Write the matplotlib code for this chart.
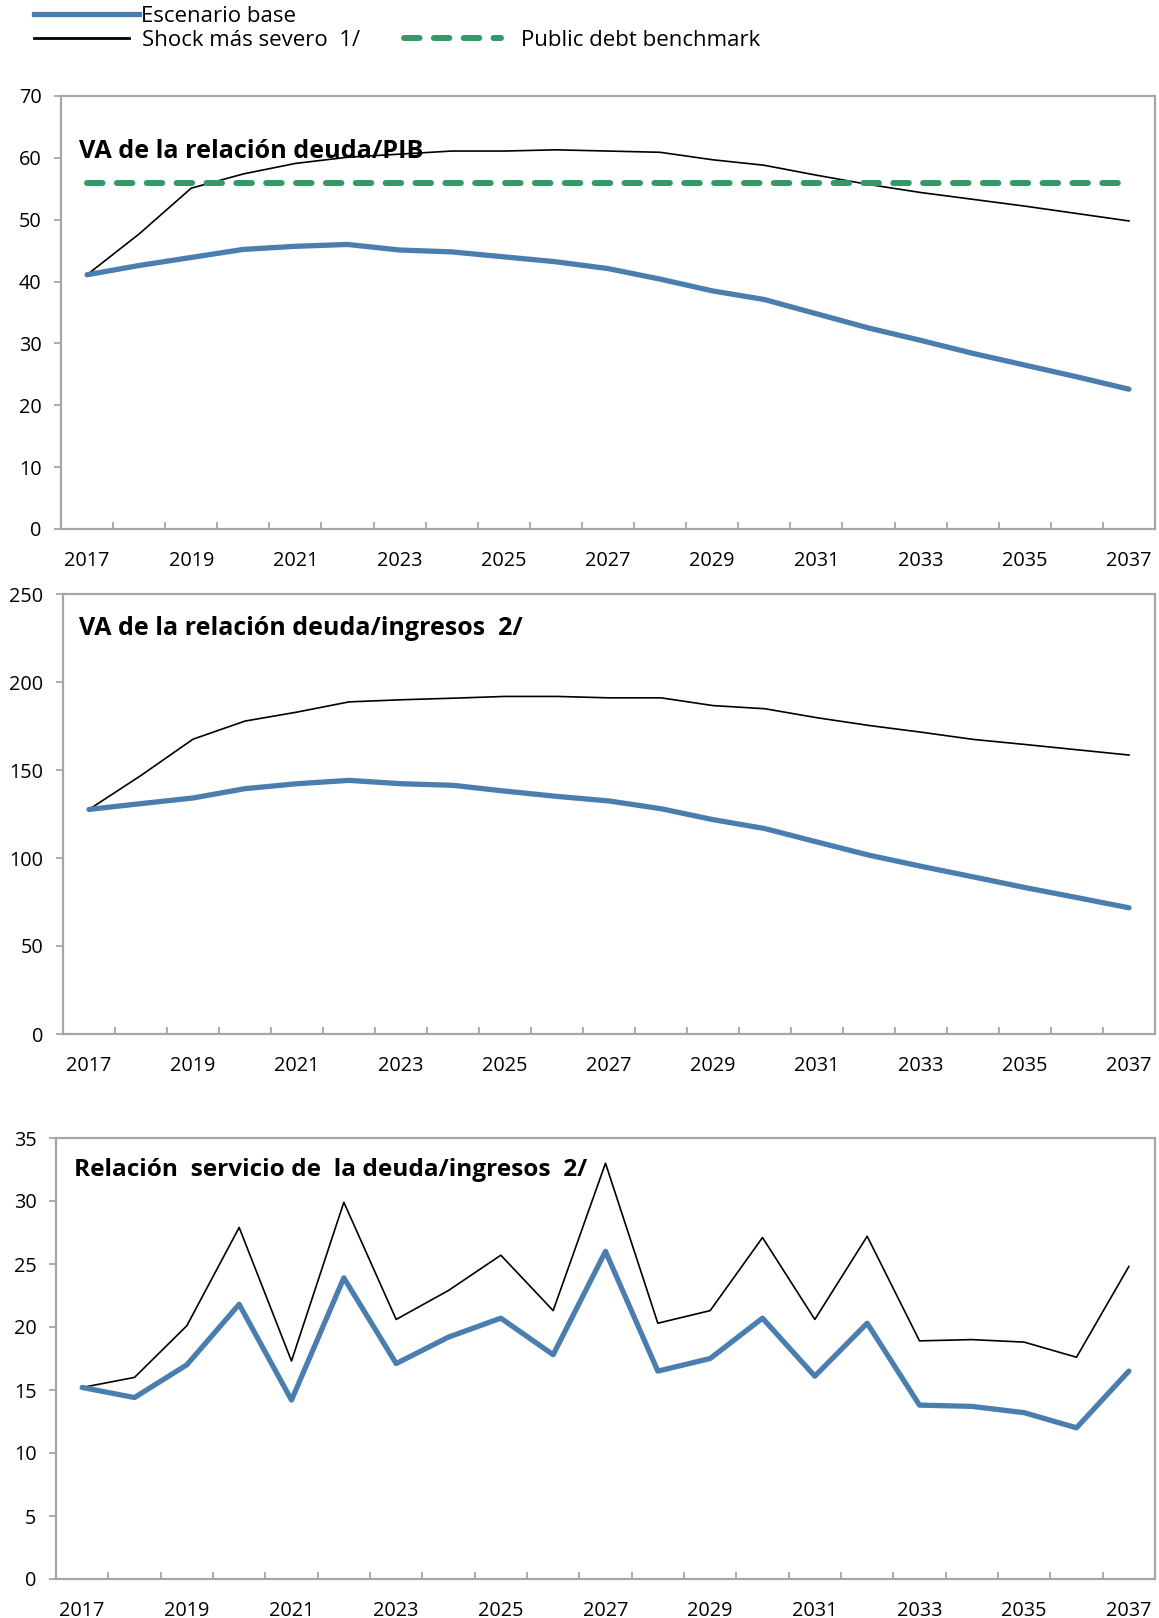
import matplotlib
matplotlib.use('Agg')
import matplotlib.pyplot as plt
from matplotlib.lines import Line2D
from matplotlib.ticker import FixedLocator

plt.rcParams['font.family'] = ['Open Sans', 'DejaVu Sans']

# ---------------- data ----------------
years = list(range(2017, 2038))
label_years = list(range(2017, 2038, 2))

pib_base = [41.1, 42.6, 43.9, 45.2, 45.7, 46.0, 45.1, 44.8, 44.0, 43.2, 42.1,
            40.4, 38.5, 37.1, 34.8, 32.5, 30.5, 28.4, 26.5, 24.6, 22.6]
pib_shock = [41.1, 47.7, 55.1, 57.4, 59.1, 60.1, 60.6, 61.1, 61.1, 61.3, 61.1,
             60.9, 59.7, 58.8, 57.2, 55.7, 54.4, 53.3, 52.2, 51.0, 49.8]
pib_benchmark = [56.0] * len(years)

ing_base = [127.6, 130.9, 134.1, 139.4, 142.2, 144.1, 142.2, 141.3, 138.0, 135.0, 132.4,
            128.0, 121.8, 116.7, 109.1, 101.6, 95.3, 89.3, 83.2, 77.5, 71.7]
ing_shock = [127.6, 146.9, 167.5, 177.8, 182.9, 188.7, 189.9, 190.8, 191.8, 191.8, 191.0,
             191.0, 186.6, 184.8, 179.7, 175.3, 171.5, 167.4, 164.5, 161.5, 158.5]

serv_base = [15.2, 14.4, 17.0, 21.8, 14.2, 23.9, 17.1, 19.2, 20.7, 17.8, 26.0,
             16.5, 17.5, 20.7, 16.1, 20.3, 13.8, 13.7, 13.2, 12.0, 16.5]
serv_shock = [15.2, 16.0, 20.1, 27.9, 17.3, 29.9, 20.6, 22.9, 25.7, 21.3, 33.0,
              20.3, 21.3, 27.1, 20.6, 27.2, 18.9, 19.0, 18.8, 17.6, 24.8]

titles = ["VA de la relación deuda/PIB",
          "VA de la relación deuda/ingresos  2/",
          "Relación  servicio de  la deuda/ingresos  2/"]
ylims = [(0, 70), (0, 250), (0, 35)]
ysteps = [10, 50, 5]
legend_labels = ["Escenario base", "Shock más severo  1/", "Public debt benchmark"]

# ---------------- style ----------------
BLUE = "#4A7EAF"
GREEN = "#339966"
GRAY = "#A6A6A6"
W, H = 1159, 1618
fig = plt.figure(figsize=(W / 100, H / 100), dpi=100)


def rect(l, t, r, b):
    return [l / W, 1 - b / H, (r - l) / W, (b - t) / H]


axes_px = [(61, 96, 1155, 529), (63, 594, 1155, 1034), (56, 1138, 1155, 1579)]
title_pos = [(0.0165, 0.872), (0.0147, 0.921), (0.0164, 0.928)]
title_sizes = [18.2, 18.0, 17.6]
series = [(pib_base, pib_shock), (ing_base, ing_shock), (serv_base, serv_shock)]

for i in range(3):
    ax = fig.add_axes(rect(*axes_px[i]))
    base, shock = series[i]
    ax.plot(years, shock, color="black", lw=1.2, zorder=3)
    ax.plot(years, base, color=BLUE, lw=3.8, zorder=4, solid_capstyle='round',
            solid_joinstyle='round')
    if i == 0:
        ax.plot(years, pib_benchmark, color=GREEN, lw=4.3, zorder=5,
                dashes=(2.6, 2.4), dash_capstyle='round')
    ax.set_xlim(2016.5, 2037.5)
    lo, hi = ylims[i]
    ax.set_ylim(lo, hi)
    ax.set_yticks(list(range(lo, hi + 1, ysteps[i])))
    ax.set_xticks(label_years)
    ax.set_xticklabels([str(y) for y in label_years])
    ax.xaxis.set_minor_locator(FixedLocator([y + 0.5 for y in years[:-1]]))
    ax.tick_params(axis='x', which='major', length=0, pad=16, labelsize=14.3)
    ax.tick_params(axis='x', which='minor', direction='in', length=5,
                   width=1.3, color=GRAY)
    ax.tick_params(axis='y', which='major', direction='out', length=5,
                   width=1.3, color=GRAY, pad=9, labelsize=14.3)
    for s in ax.spines.values():
        s.set_color(GRAY)
        s.set_linewidth(1.6)
    tx, ty = title_pos[i]
    ax.text(tx, ty, titles[i], transform=ax.transAxes, ha='left', va='center',
            fontsize=title_sizes[i], fontweight='bold', zorder=10)

# ---------------- legend (manual, top) ----------------
def fig_line(x0, x1, y, **kw):
    fig.add_artist(Line2D([x0 / W, x1 / W], [1 - y / H, 1 - y / H],
                          transform=fig.transFigure, **kw))


fig_line(34, 139, 14, color=BLUE, lw=3.8)
fig_line(34, 129, 38, color="black", lw=2.0)
fig_line(404, 501, 38, color=GREEN, lw=4.3, dashes=(2.6, 2.4),
         dash_capstyle='round')
fig.text(141 / W, 1 - 16 / H, legend_labels[0], ha='left', va='center', fontsize=16)
fig.text(142 / W, 1 - 41 / H, legend_labels[1], ha='left', va='center', fontsize=16)
fig.text(521 / W, 1 - 41 / H, legend_labels[2], ha='left', va='center', fontsize=16)

fig.savefig("out.png", dpi=100)
